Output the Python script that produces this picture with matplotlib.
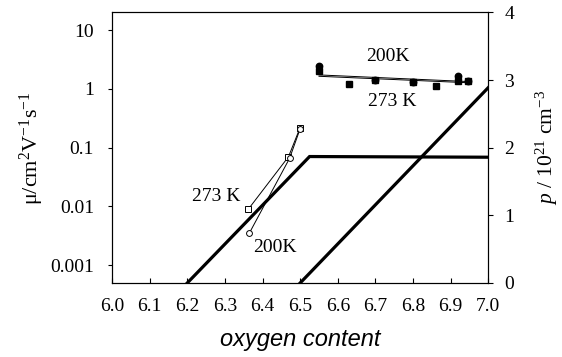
import matplotlib
matplotlib.use('Agg')
import matplotlib.pyplot as plt
import numpy as np

plt.rcParams['font.family'] = 'Liberation Serif'
plt.rcParams['mathtext.fontset'] = 'custom'
plt.rcParams['mathtext.rm'] = 'Liberation Serif'
plt.rcParams['mathtext.it'] = 'Liberation Serif:italic'

# hole concentration p (right axis, 10^21 cm^-3)
p1_x = [6.2, 6.525, 7.0]
p1_y = [0.0, 1.87, 1.86]
p2_x = [6.5, 7.0]
p2_y = [0.0, 2.89]

# mobility, low oxygen (open markers)
lo273_x = [6.362, 6.469, 6.50]
lo273_y = [0.0089, 0.070, 0.22]
lo200_x = [6.365, 6.472, 6.50]
lo200_y = [0.0035, 0.066, 0.21]

# mobility, high oxygen (filled markers)
hi200_x = [6.55, 6.70, 6.80, 6.92, 6.945]
hi200_y = [2.46, 1.42, 1.32, 1.63, 1.37]
hi273_x = [6.55, 6.63, 6.70, 6.80, 6.86, 6.92, 6.945]
hi273_y = [2.02, 1.20, 1.42, 1.32, 1.12, 1.37, 1.37]
# fit lines through high-oxygen data
fit200_x = [6.55, 6.95]
fit200_y = [1.73, 1.33]
fit273_x = [6.55, 6.95]
fit273_y = [1.64, 1.27]

fig = plt.figure(figsize=(5.62, 3.57), dpi=100)
ax = fig.add_axes([0.1993, 0.2073, 0.6696, 0.7577])
ax2 = ax.twinx()

ax2.plot(p1_x, p1_y, color='black', lw=2.3, solid_joinstyle='miter')
ax2.plot(p2_x, p2_y, color='black', lw=2.3)
ax2.set_ylim(0, 4)
ax2.set_yticks([0, 1, 2, 3, 4])
ax2.tick_params(axis='y', direction='out', length=3.5, pad=8, labelsize=14)
ax2.set_ylabel(r'$p$ / 10$^{21}$ cm$^{-3}$', fontsize=15.5, labelpad=14)

ax.set_yscale('log')
ax.plot(lo273_x, lo273_y, color='black', lw=0.7, marker='s', ms=4.2,
        mfc='white', mec='black', mew=0.7)
ax.plot(lo200_x, lo200_y, color='black', lw=0.7, marker='o', ms=4.2,
        mfc='white', mec='black', mew=0.7)
ax.plot(hi200_x, hi200_y, ls='none', marker='o', ms=4.6, color='black')
ax.plot(hi273_x, hi273_y, ls='none', marker='s', ms=4.6, color='black')
ax.plot(fit200_x, fit200_y, color='black', lw=0.7)
ax.plot(fit273_x, fit273_y, color='black', lw=0.7)

ax.set_xlim(6.0, 7.0)
ax.set_ylim(4.95e-4, 20)
ax.set_xticks(np.arange(6.0, 7.01, 0.1))
ax.set_xticklabels(['%.1f' % v for v in np.arange(6.0, 7.01, 0.1)])
ax.set_yticks([0.001, 0.01, 0.1, 1, 10])
ax.set_yticklabels(['0.001', '0.01', '0.1', '1', '10'])
ax.minorticks_off()
ax.tick_params(axis='x', direction='in', length=3.5, pad=11, labelsize=14)
ax.tick_params(axis='y', direction='out', length=3, pad=10, labelsize=14)
ax.set_zorder(ax2.get_zorder() + 1)
ax.patch.set_visible(False)

ax.set_xlabel('oxygen content', fontsize=17, family='Liberation Sans',
              style='italic', labelpad=9)
ax.set_ylabel(r'$\mathrm{\mu/cm^{2}V^{-1}s^{-1}}$', fontsize=16, labelpad=3)

ax.text(6.734, 3.6, '200K', fontsize=14, ha='center', va='center')
ax.text(6.744, 0.62, '273 K', fontsize=14, ha='center', va='center')
ax.text(6.278, 0.0145, '273 K', fontsize=14, ha='center', va='center')
ax.text(6.433, 0.002, '200K', fontsize=14, ha='center', va='center')

for a in (ax, ax2):
    for s in a.spines.values():
        s.set_linewidth(0.8)

fig.savefig('out.png', dpi=100)
